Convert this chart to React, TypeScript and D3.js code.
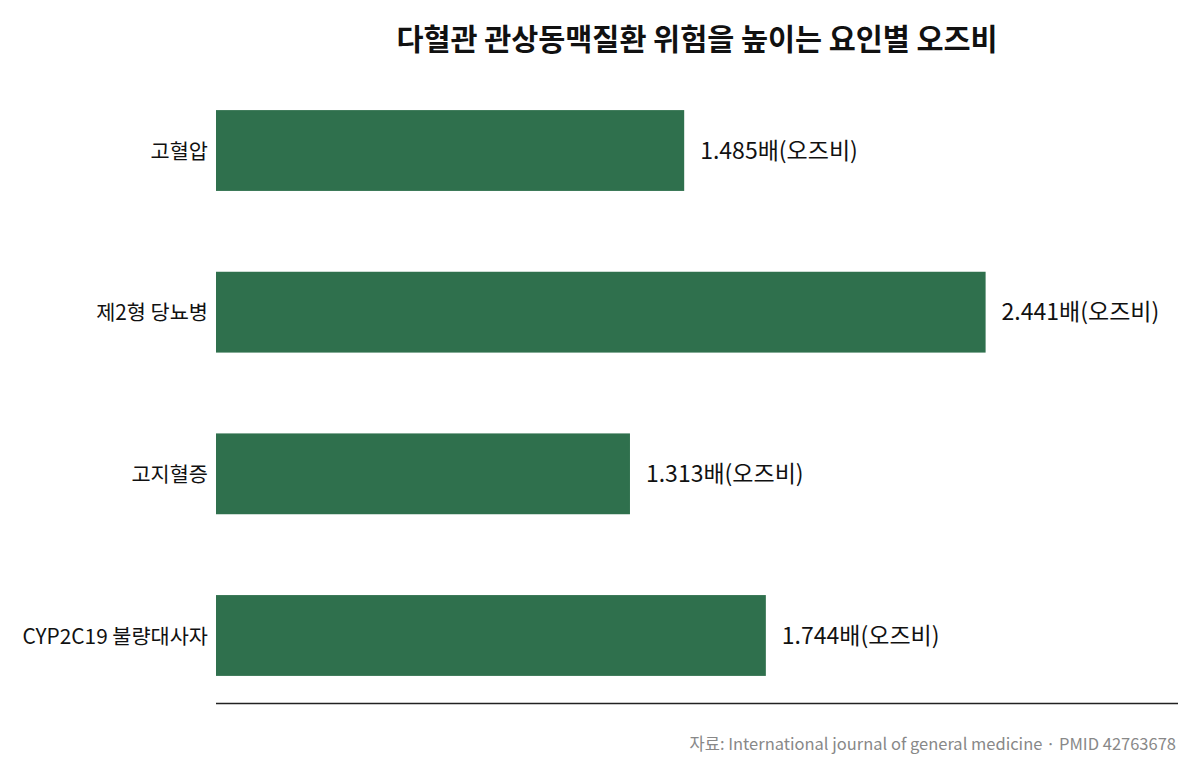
import { useRef, useEffect } from "react";
import * as d3 from "d3";

const categories = ["고혈압", "제2형 당뇨병", "고지혈증", "CYP2C19 불량대사자"];
const oddsRatios = [1.485, 2.441, 1.313, 1.744];

const TITLE = "다혈관 관상동맥질환 위험을 높이는 요인별 오즈비";
const SOURCE = "자료: International journal of general medicine · PMID 42763678";

const W = 1200;
const H = 765;
const FONT = "'Noto Sans CJK KR', 'Noto Sans', sans-serif";
const BAR = "#2f704d";

export default function App() {
  const svgRef = useRef<SVGSVGElement>(null);

  useEffect(() => {
    if (!svgRef.current) return;
    const svg = d3.select(svgRef.current);
    svg.selectAll("*").remove();

    const left = 216;
    const right = 1178;
    const top = 81;
    const bottom = 705;

    const x = d3.scaleLinear().domain([0, d3.max(oddsRatios)! * 1.25]).range([left, right]);
    const y = d3.scaleBand<string>().domain(categories).range([top, bottom]).paddingInner(0.5).paddingOuter(0.18);

    svg
      .append("text")
      .attr("x", (left + right) / 2)
      .attr("y", 50)
      .attr("text-anchor", "middle")
      .attr("font-family", FONT)
      .attr("font-weight", 700)
      .attr("font-size", 29.4)
      .attr("fill", "#111")
      .text(TITLE);

    const rows = svg.append("g");
    categories.forEach((c, i) => {
      const v = oddsRatios[i];
      const y0 = y(c)!;
      rows
        .append("rect")
        .attr("x", x(0))
        .attr("y", y0)
        .attr("width", x(v) - x(0))
        .attr("height", y.bandwidth())
        .attr("fill", BAR);
      rows
        .append("text")
        .attr("x", x(v) + 16)
        .attr("y", y0 + y.bandwidth() / 2)
        .attr("dy", "0.35em")
        .attr("font-family", FONT)
        .attr("font-size", 23)
        .attr("fill", "#111")
        .text(`${v.toFixed(3)}배(오즈비)`);
      rows
        .append("text")
        .attr("x", left - 8)
        .attr("y", y0 + y.bandwidth() / 2 + 1)
        .attr("dy", "0.35em")
        .attr("text-anchor", "end")
        .attr("font-family", FONT)
        .attr("font-size", 20.8)
        .attr("fill", "#111")
        .text(c);
    });

    svg
      .append("line")
      .attr("x1", left)
      .attr("x2", right)
      .attr("y1", bottom - 1.5)
      .attr("y2", bottom - 1.5)
      .attr("stroke", "#222")
      .attr("stroke-width", 1.5);

    svg
      .append("text")
      .attr("x", right - 2)
      .attr("y", 750)
      .attr("text-anchor", "end")
      .attr("font-family", FONT)
      .attr("font-size", 16.5)
      .attr("fill", "#888")
      .text(SOURCE);
  }, []);

  return (
    <svg
      ref={svgRef}
      width={W}
      height={H}
      style={{ position: "absolute", left: 0, top: 0, background: "#fff" }}
    />
  );
}
